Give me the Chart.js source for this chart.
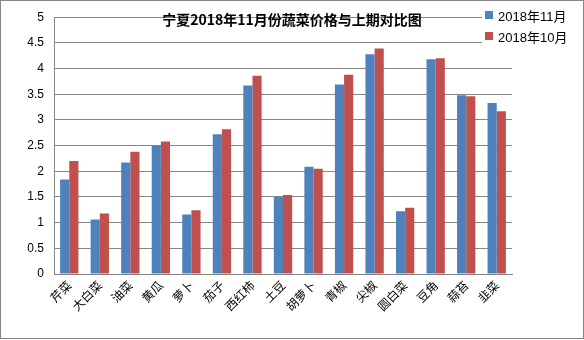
<!DOCTYPE html>
<html>
<head>
<meta charset="utf-8">
<script src="https://cdn.jsdelivr.net/npm/chart.js@4/dist/chart.umd.min.js"></script>
<style>
    body { margin: 0; background: #fff; }
    #wrap { position: relative; width: 584px; height: 340px; }
    #frame { position: absolute; left: 0; top: 0; width: 582px; height: 337px; border: 1px solid #868686; pointer-events: none; }
    #title {
        position: absolute; left: 150px; width: 284px; top: 9px; text-align: center;
        font: bold 14px "Noto Sans CJK SC", sans-serif; color: #000; white-space: nowrap;
    }
    #legend { position: absolute; left: 482px; top: 12px; width: 90px; height: 34px; background: #fff; }
    .item {
        position: absolute; left: 0; display: flex; align-items: center; height: 14px;
        font: 13px "Liberation Sans", "Noto Sans CJK SC", sans-serif; color: #000; white-space: nowrap;
    }
    .box { width: 8px; height: 8px; margin: 0 5px 0 3px; }
</style>
</head>
<body>
<div id="wrap">
    <canvas id="myChart" width="584" height="340"></canvas>
    <div id="title"></div>
    <div id="legend"></div>
    <div id="frame"></div>
</div>
<script>
const chartTitle = "宁夏2018年11月份蔬菜价格与上期对比图";
const vegetables = ["芹菜", "大白菜", "油菜", "黄瓜", "萝卜", "茄子", "西红柿", "土豆", "胡萝卜", "青椒", "尖椒", "圆白菜", "豆角", "蒜苔", "韭菜"];
const seriesNames = ["2018年11月", "2018年10月"];
const novPrices = [1.84, 1.06, 2.17, 2.5, 1.16, 2.72, 3.67, 1.5, 2.09, 3.69, 4.28, 1.22, 4.18, 3.48, 3.33];
const octPrices = [2.2, 1.18, 2.38, 2.58, 1.24, 2.82, 3.86, 1.54, 2.05, 3.88, 4.39, 1.29, 4.2, 3.46, 3.17];
const seriesColors = ["#4F81BD", "#C0504D"];

document.querySelector("#title").textContent = chartTitle;

// Legend sits over the top-right corner of the plot, white behind it
const legendEl = document.querySelector("#legend");
seriesNames.forEach((name, i) => {
    const item = document.createElement("div");
    item.className = "item";
    item.style.top = (-4 + i * 21) + "px";
    item.innerHTML = `<span class="box" style="background:${seriesColors[i]}"></span><span>${name}</span>`;
    legendEl.appendChild(item);
});

const ctx = document.getElementById("myChart").getContext("2d");

const myChart = new Chart(ctx, {
    type: "bar",
    data: {
        labels: vegetables,
        datasets: [
            { label: seriesNames[0], data: novPrices, backgroundColor: seriesColors[0] },
            { label: seriesNames[1], data: octPrices, backgroundColor: seriesColors[1] }
        ]
    },
    options: {
        responsive: false,
        animation: false,
        layout: { padding: { left: 0, top: 10, right: 72, bottom: 0 } },
        plugins: {
            legend: { display: false },
            title: { display: false },
            tooltip: { enabled: false }
        },
        datasets: {
            bar: { barPercentage: 1, categoryPercentage: 0.6 }
        },
        scales: {
            x: {
                grid: { display: false, drawTicks: false },
                border: { color: "#868686", width: 1 },
                ticks: {
                    color: "#000",
                    font: { family: "Noto Sans CJK SC", size: 12 },
                    minRotation: 45,
                    maxRotation: 45,
                    padding: 4,
                    autoSkip: false
                },
                afterFit: scale => { scale.height = 66; }
            },
            y: {
                min: 0,
                max: 5,
                grid: { color: "#868686", drawTicks: false },
                border: { color: "#868686", width: 1 },
                ticks: {
                    stepSize: 0.5,
                    color: "#000",
                    font: { family: "Liberation Sans", size: 12 },
                    padding: 10,
                    // plain numbers: 5, 4.5, 4 ...
                    callback: value => String(Number(value))
                },
                afterFit: scale => { scale.width = 54; }
            }
        }
    }
});
</script>
</body>
</html>
